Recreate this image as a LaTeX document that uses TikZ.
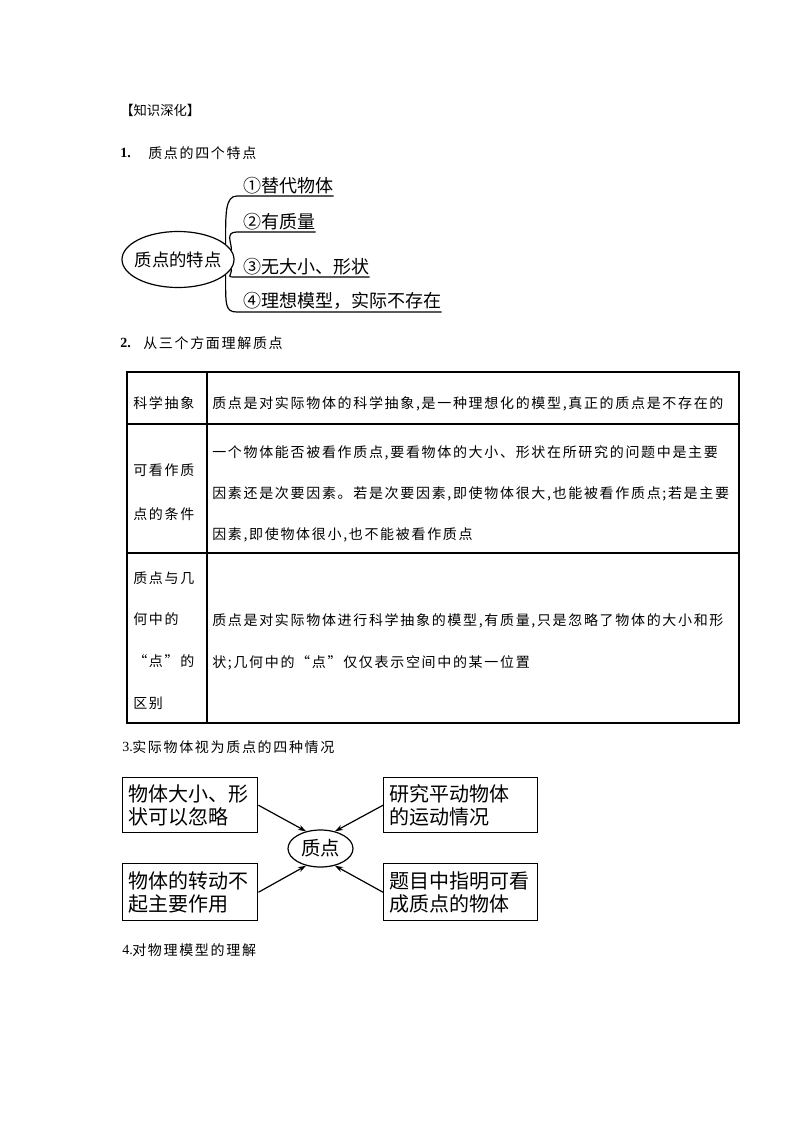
\documentclass[tikz,border=0pt]{standalone}
\usepackage{fontspec}
\setmainfont{Liberation Serif}
\newfontfamily\cjk{Noto Sans CJK SC}
\newfontfamily\cjkwide[LetterSpace=12]{Noto Sans CJK SC}
\usetikzlibrary{shapes.geometric,arrows.meta,positioning}
\tikzset{
    heading/.style={anchor=west, inner sep=0pt, font=\cjkwide\fontsize{10.5}{12}\selectfont},
    num/.style={anchor=west, inner sep=0pt, font=\fontsize{10.5}{12}\selectfont},
    cell/.style={anchor=north west, inner sep=0pt, align=left, font=\cjkwide\fontsize{10.5}{#1}\selectfont},
    cell/.default=31,
    trait/.style={anchor=south west, inner xsep=0pt, inner ysep=1.5pt, font=\cjk\fontsize{13.5}{16}\selectfont},
    branch/.style={line width=0.9pt},
    casebox/.style={draw, line width=1.1pt, anchor=north west, align=left, inner xsep=4.5pt, inner ysep=0pt, font=\cjk\fontsize{15}{17.25}\selectfont},
    toward/.style={line width=0.9pt, -{Stealth[length=6pt, width=4pt]}}
}
\begin{document}
    \begin{tikzpicture}[x=0.75pt, y=-0.75pt]
        \fill[white] (0,0) rectangle (794,1123);
        \useasboundingbox (0,0) rectangle (794,1123);
        % headings
        \node[heading, font=\cjk\fontsize{10}{12}\selectfont] (intro) at (120,110) {【知识深化】};
        \node[num, font=\bfseries\fontsize{10.5}{12}\selectfont] (n1) at (120,153) {1.};
        \node[heading] (h1) at (148,153) {质点的四个特点};
        \node[num, font=\bfseries\fontsize{10.5}{12}\selectfont] (n2) at (120,343) {2.};
        \node[heading] (h2) at (143,343) {从三个方面理解质点};
        \node[num] (n3) at (122,747) {3.};
        \node[heading] (h3) at (132,747) {实际物体视为质点的四种情况};
        \node[num] (n4) at (122,950) {4.};
        \node[heading] (h4) at (132,950) {对物理模型的理解};
        % four traits
        \node[draw, ellipse, line width=0.9pt, minimum width=84pt, minimum height=42pt, inner sep=0pt,
              font=\cjk\fontsize{13}{15}\selectfont] (spot) at (178,259.5) {\makebox[0pt]{质点的特点}};
        \foreach \n/\y/\lab in {1/196/①替代物体, 2/232/②有质量, 3/277/③无大小、形状, 4/312/④理想模型，实际不存在}{
            \node[trait] (t\n) at (243,\y) {\lab};
        }
        \foreach \n/\a/\dy in {1/18/-30, 2/10/-8, 3/-10/8, 4/-18/30}{
            \draw[branch] (spot.\a) .. controls +(0,\dy) and +(-12,0) .. ([xshift=-4.5pt]t\n.south west) -- (t\n.south east);
        }
        % table
        \draw[line width=0.8pt] (207,372) -- (207,723);
        \foreach \y in {424,553}{
            \draw[line width=0.8pt] (127,\y) -- (739,\y);
        }
        \draw[line width=2.2pt] (127,372) rectangle (739,723);
        \node[cell] (a1) at (133,396) {科学抽象};
        \node[cell] (b1) at (212,396) {质点是对实际物体的科学抽象,是一种理想化的模型,真正的质点是不存在的};
        \node[cell=33] (a2) at (133,464) {可看作质\\点的条件};
        \node[cell] (b2) at (212,445) {一个物体能否被看作质点,要看物体的大小、形状在所研究的问题中是主要\\因素还是次要因素。若是次要因素,即使物体很大,也能被看作质点;若是主要\\因素,即使物体很小,也不能被看作质点};
        \node[cell=31.3] (a3) at (133,571) {质点与几\\何中的\\“点”的\\区别};
        \node[cell=31.5] (b3) at (212,613) {质点是对实际物体进行科学抽象的模型,有质量,只是忽略了物体的大小和形\\状;几何中的“点”仅仅表示空间中的某一位置};
        % four cases
        \node[casebox, text width=92.25pt, minimum height=41.25pt] (c1) at (122,777) {物体大小、形\\状可以忽略};
        \node[casebox, text width=106.5pt, minimum height=41.25pt] (c2) at (383,777) {研究平动物体\\的运动情况};
        \node[casebox, text width=92.25pt, minimum height=42.75pt] (c3) at (122,863) {物体的转动不\\起主要作用};
        \node[casebox, text width=106.5pt, minimum height=42.75pt] (c4) at (383,863) {题目中指明可看\\成质点的物体};
        \node[draw, ellipse, line width=0.9pt, minimum width=48.75pt, minimum height=27.75pt, inner sep=0pt,
              font=\cjk\fontsize{14.5}{16}\selectfont] (mass) at (320.5,848.5) {质点};
        \draw[toward] (c1.east) -- (mass.130);
        \draw[toward] (c2.west) -- (mass.50);
        \draw[toward] (c3.east) -- (mass.230);
        \draw[toward] (c4.west) -- (mass.310);
    \end{tikzpicture}
\end{document}
